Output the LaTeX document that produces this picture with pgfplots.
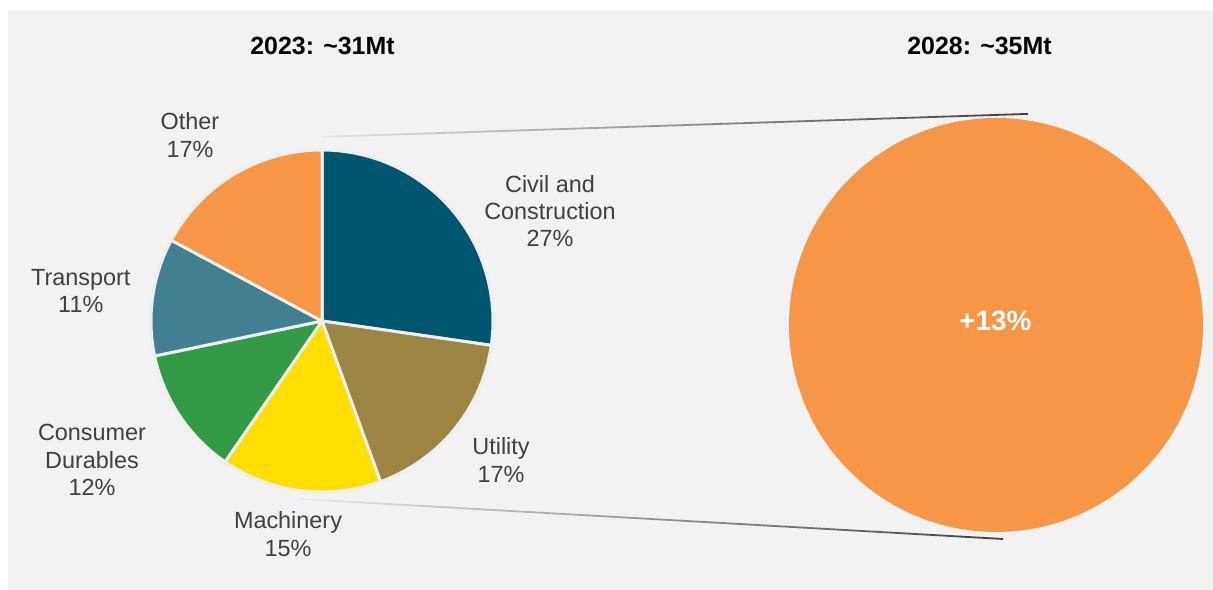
\documentclass[border=0pt]{standalone}
\usepackage{pgfplots}
\pgfplotsset{compat=1.18}
\usepackage{pgfplotstable}
\usepackage{fontspec}
\setmainfont{Liberation Sans}
\definecolor{bgc}{HTML}{F2F2F2}
\definecolor{sepc}{HTML}{EEEEEE}
\definecolor{txtc}{HTML}{404040}
\definecolor{c0}{HTML}{00566E}
\definecolor{c1}{HTML}{9C8441}
\definecolor{c2}{HTML}{FFDF00}
\definecolor{c3}{HTML}{339B45}
\definecolor{c4}{HTML}{417F93}
\definecolor{c5}{HTML}{F79646}
\definecolor{bigc}{HTML}{F79646}

% 2023 split by end use (%), clockwise from 12 o'clock
\pgfplotstableread{
label value
Civil 27
Utility 17
Machinery 15
Consumer 12
Transport 11
Other 17
}\piedata

\begin{document}
\begin{tikzpicture}
\begin{axis}[x=1bp, y=1bp, xmin=0, xmax=1213, ymin=0, ymax=590,
  hide axis, clip=false, scale only axis]
  % background
  \fill[white] (axis cs:0,0) rectangle (axis cs:1213,590);
  \fill[bgc] (axis cs:8,0) rectangle (axis cs:1213,580);

  % connector lines
  \shade[left color=black!10, right color=black!75]
    (axis cs:321,452.2) -- (axis cs:1028,475.2) -- (axis cs:1028,477.0) -- (axis cs:321,454.0) -- cycle;
  \shade[left color=black!8, right color=black!75]
    (axis cs:300,91.9) -- (axis cs:1003,51.9) -- (axis cs:1003,50.1) -- (axis cs:300,90.1) -- cycle;

  % total
  \gdef\total{0}
  \pgfplotsforeachungrouped \i in {0,...,5}{%
    \pgfplotstablegetelem{\i}{value}\of\piedata
    \pgfmathsetmacro\tmp{\total+\pgfplotsretval}%
    \global\let\total\tmp
  }
  % pie wedges
  \gdef\cum{0}
  \pgfplotsforeachungrouped \i in {0,...,5}{%
    \pgfplotstablegetelem{\i}{value}\of\piedata
    \pgfmathsetmacro\sa{90-(\cum/\total)*360}%
    \pgfmathsetmacro\newcum{\cum+\pgfplotsretval}%
    \pgfmathsetmacro\ea{90-(\newcum/\total)*360}%
    \global\let\cum\newcum
    \edef\doplot{\noexpand\addplot[fill=c\i, draw=sepc, line width=3bp, line join=round,
      domain=\ea:\sa, samples=90, variable=\noexpand\t]
      ({322+171*cos(\noexpand\t)},{269+171*sin(\noexpand\t)}) -- (axis cs:322,269) -- cycle;}%
    \doplot
  }

  % 2028 circle
  \addplot[fill=bigc, draw=none, domain=0:360, samples=240, variable=\t]
    ({996+207*cos(\t)},{265+207*sin(\t)}) -- cycle;

  % titles
  \node[font=\fontsize{25}{30}\selectfont\bfseries, text=black] at (axis cs:322.5,544.5) {2023: \char`\~31Mt};
  \node[font=\fontsize{25}{30}\selectfont\bfseries, text=black] at (axis cs:979.5,544.5) {2028: \char`\~35Mt};
  \node[font=\fontsize{28}{32}\selectfont\bfseries, text=white] at (axis cs:995.3,269.5) {+13\%};

  % labels
  \begin{scope}[every node/.style={font=\fontsize{23.5}{27.5}\selectfont, text=txtc, align=center, inner sep=0pt}]
    \node at (axis cs:190,455) {Other\\17\%};
    \node at (axis cs:550,379) {Civil and\\Construction\\27\%};
    \node at (axis cs:80.8,298.7) {Transport\\11\%};
    \node at (axis cs:92,130) {Consumer\\Durables\\12\%};
    \node at (axis cs:288,56) {Machinery\\15\%};
    \node at (axis cs:501,130) {Utility\\17\%};
  \end{scope}
\end{axis}
\end{tikzpicture}
\end{document}
